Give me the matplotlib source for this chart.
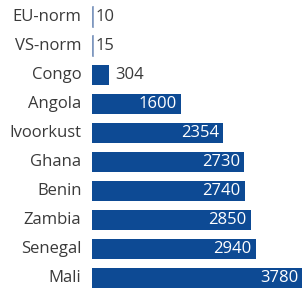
import matplotlib
matplotlib.use("Agg")
from matplotlib import pyplot as plt

# landen en waarden
landen = ["EU-norm", "VS-norm", "Congo", "Angola", "Ivoorkust",
          "Ghana", "Benin", "Zambia", "Senegal", "Mali"]
waarden = [10, 15, 304, 1600, 2354, 2730, 2740, 2850, 2940, 3780]
labels = ["10", "15", "304", "1600", "2354", "2730", "2740", "2850", "2940", "3780"]

blauw = "#0d4a94"
grijs = "#3a3a3a"
plt.rcParams['font.family'] = ['Open Sans', 'DejaVu Sans']

fig = plt.figure(figsize=(3.02, 2.91), dpi=100)
ax = fig.add_axes([92/302, 0, 210/302, 1])

pos = list(range(len(landen)))
ax.barh(pos, waarden, height=0.66, color=blauw, clip_on=False)
# dunne streepjes voor de normen
for i, w in enumerate(waarden):
    if w < 100:
        ax.plot([12, 12], [i-0.33, i+0.33], color="#8aa0c4", lw=1.3)

ax.set_xlim(0, 3770)
ax.set_ylim(9.448, -0.586)

for i, (w, t) in enumerate(zip(waarden, labels)):
    if w > 1000:
        ax.text(w - 70, i, t, ha="right", va="center", color="white", fontsize=12)
    elif w > 100:
        ax.text(w + 110, i, t, ha="left", va="center", color=grijs, fontsize=12)
    else:
        ax.text(60, i, t, ha="left", va="center", color=grijs, fontsize=12)
    ax.text(-190, i, landen[i], ha="right", va="center", color=grijs, fontsize=12)

ax.axis("off")
fig.savefig("out.png", dpi=100)
